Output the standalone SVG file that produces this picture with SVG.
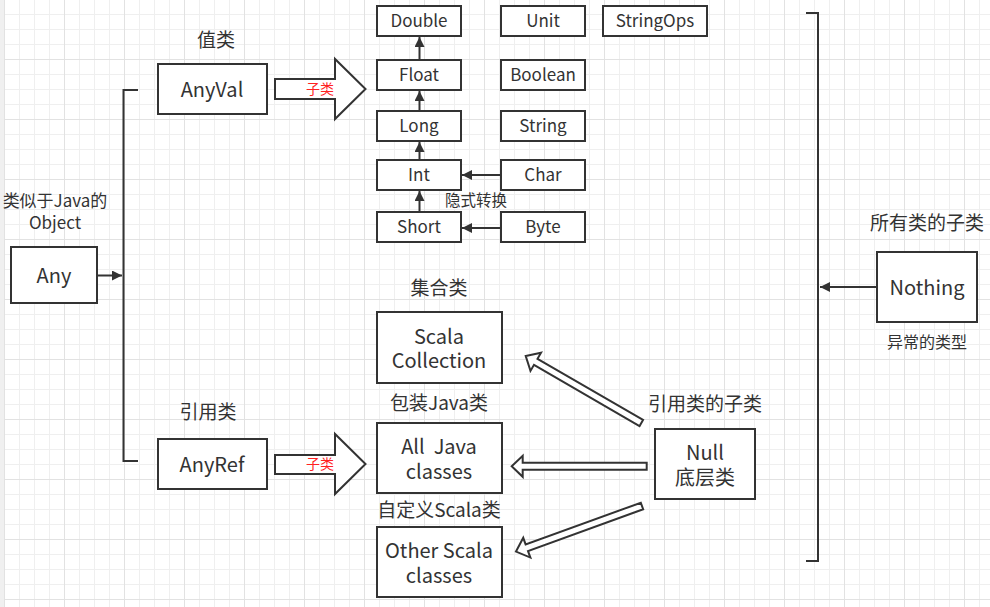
<svg xmlns="http://www.w3.org/2000/svg" width="990" height="607" viewBox="0 0 990 607">
<defs>
<pattern id="grid" x="4" y="-1" width="60" height="60" patternUnits="userSpaceOnUse">
<rect width="60" height="60" fill="#ffffff"/>
<path d="M15.5 0V60M30.5 0V60M45.5 0V60M0 15.5H60M0 30.5H60M0 45.5H60" stroke="#efefef" stroke-width="1" fill="none"/>
<path d="M0.5 0V60M0 0.5H60" stroke="#e2e2e2" stroke-width="1" fill="none"/>
</pattern>
<marker id="ah" viewBox="0 0 10 10" refX="10" refY="5" markerWidth="10" markerHeight="10" markerUnits="userSpaceOnUse" orient="auto">
<path d="M0 0L10 5L0 10Z" fill="#333333"/>
</marker>
<style>
text{font-family:"Noto Sans CJK SC","Noto Sans",sans-serif;fill:#333333;text-anchor:middle;dominant-baseline:central}
.box{fill:#ffffff;stroke:#333333;stroke-width:2}
.big{font-size:20px}
.sm{font-size:17px}
.lbl{font-size:19px}
.red{font-size:14px;fill:#ff2222}
.ln{stroke:#333333;stroke-width:2;fill:none}
.blk{fill:#ffffff;stroke:#333333;stroke-width:2;stroke-linejoin:miter}
.hol{fill:#ffffff;stroke:#333333;stroke-width:2;stroke-linejoin:miter}
</style>
</defs>
<rect width="990" height="607" fill="url(#grid)"/>
<rect x="0" y="0" width="4" height="607" fill="#f0f0f0"/>

<g id="connectors">
<path class="ln" d="M138 90H123.5V461H138"/>
<path class="ln" d="M806 13H818V561H806"/>
<line class="ln" x1="97" y1="275.5" x2="122" y2="275.5" marker-end="url(#ah)"/>
<line class="ln" x1="877" y1="287" x2="820" y2="287" marker-end="url(#ah)"/>
<line class="ln" x1="419.5" y1="60" x2="419.5" y2="37" marker-end="url(#ah)"/>
<line class="ln" x1="419.5" y1="111" x2="419.5" y2="91" marker-end="url(#ah)"/>
<line class="ln" x1="419.5" y1="160" x2="419.5" y2="142" marker-end="url(#ah)"/>
<line class="ln" x1="419.5" y1="212" x2="419.5" y2="191" marker-end="url(#ah)"/>
<line class="ln" x1="501" y1="175" x2="462" y2="175" marker-end="url(#ah)"/>
<line class="ln" x1="501" y1="228" x2="462" y2="228" marker-end="url(#ah)"/>
<polygon class="blk" points="275,79 335,79 335,59 365.5,89 335,119 335,99 275,99"/>
<polygon class="blk" points="275,455 335,455 335,434 365.5,464 335,494 335,474 275,474"/>
<polygon class="hol" transform="translate(641.3 423) rotate(210.1)" points="0,-3.5 122,-3.5 122,-10.5 133.6,0 122,10.5 122,3.5 0,3.5"/>
<polygon class="hol" transform="translate(646.7 466.3) rotate(180)" points="0,-3.5 124,-3.5 124,-10.5 135,0 124,10.5 124,3.5 0,3.5"/>
<polygon class="hol" transform="translate(642 506) rotate(160.1)" points="0,-3.5 122.5,-3.5 122.5,-10.5 134,0 122.5,10.5 122.5,3.5 0,3.5"/>
<text class="red" x="320" y="87.5">子类</text>
<text class="red" x="320" y="462.5">子类</text>
<text x="476" y="199" style="font-size:15.5px">隐式转换</text>
</g>

<g id="any"><rect class="box" x="11" y="247" width="86" height="56"/><text class="big" x="54" y="274.5">Any</text></g>
<g id="any-note"><text style="font-size:17px"><tspan x="55" y="198.5">类似于Java的</tspan><tspan x="55" y="220.5">Object</tspan></text></g>
<g id="anyval"><text class="lbl" x="216" y="38.5">值类</text><rect class="box" x="158" y="64" width="109" height="50"/><text class="big" x="212" y="88.5">AnyVal</text></g>
<g id="anyref"><text class="lbl" x="208" y="410.5">引用类</text><rect class="box" x="158" y="439" width="109" height="50"/><text class="big" x="212" y="463.5">AnyRef</text></g>

<g id="double"><rect class="box" x="377" y="6" width="84" height="30"/><text class="sm" x="419" y="19.5">Double</text></g>
<g id="float"><rect class="box" x="377" y="60" width="84" height="30"/><text class="sm" x="419" y="73.5">Float</text></g>
<g id="long"><rect class="box" x="377" y="111" width="84" height="30"/><text class="sm" x="419" y="124.5">Long</text></g>
<g id="int"><rect class="box" x="377" y="160" width="84" height="30"/><text class="sm" x="419" y="173.5">Int</text></g>
<g id="short"><rect class="box" x="377" y="212" width="84" height="30"/><text class="sm" x="419" y="225.5">Short</text></g>
<g id="unit"><rect class="box" x="501" y="6" width="84" height="30"/><text class="sm" x="543" y="19.5">Unit</text></g>
<g id="boolean"><rect class="box" x="501" y="60" width="84" height="30"/><text class="sm" x="543" y="73.5">Boolean</text></g>
<g id="string"><rect class="box" x="501" y="111" width="84" height="30"/><text class="sm" x="543" y="124.5">String</text></g>
<g id="char"><rect class="box" x="501" y="160" width="84" height="30"/><text class="sm" x="543" y="173.5">Char</text></g>
<g id="byte"><rect class="box" x="501" y="212" width="84" height="30"/><text class="sm" x="543" y="225.5">Byte</text></g>
<g id="stringops"><rect class="box" x="603" y="6" width="104" height="30"/><text class="sm" x="655" y="19.5">StringOps</text></g>

<g id="scala-collection"><text class="lbl" x="439" y="286.5">集合类</text><rect class="box" x="377" y="312" width="125" height="71"/><text class="big"><tspan x="439" y="334.5">Scala</tspan><tspan x="439" y="358.5">Collection</tspan></text></g>
<g id="java-classes"><text class="lbl" x="439" y="401.5">包装Java类</text><rect class="box" x="377" y="423" width="125" height="70"/><text class="big" xml:space="preserve"><tspan x="439" y="444.5">All  Java</tspan><tspan x="439" y="469.5">classes</tspan></text></g>
<g id="other-scala"><text class="lbl" x="439" y="508.5">自定义Scala类</text><rect class="box" x="377" y="527" width="125" height="70"/><text class="big"><tspan x="439" y="548.5">Other Scala</tspan><tspan x="439" y="573.5">classes</tspan></text></g>
<g id="null"><text class="lbl" x="705" y="402.5">引用类的子类</text><rect class="box" x="655" y="429" width="100" height="70"/><text class="big"><tspan x="705" y="450.5">Null</tspan><tspan x="705" y="475.5">底层类</tspan></text></g>
<g id="nothing"><text class="lbl" x="927" y="221.5">所有类的子类</text><rect class="box" x="877" y="252" width="100" height="70"/><text class="big" x="927" y="286">Nothing</text><text x="927" y="340.5" style="font-size:16px">异常的类型</text></g>
</svg>
